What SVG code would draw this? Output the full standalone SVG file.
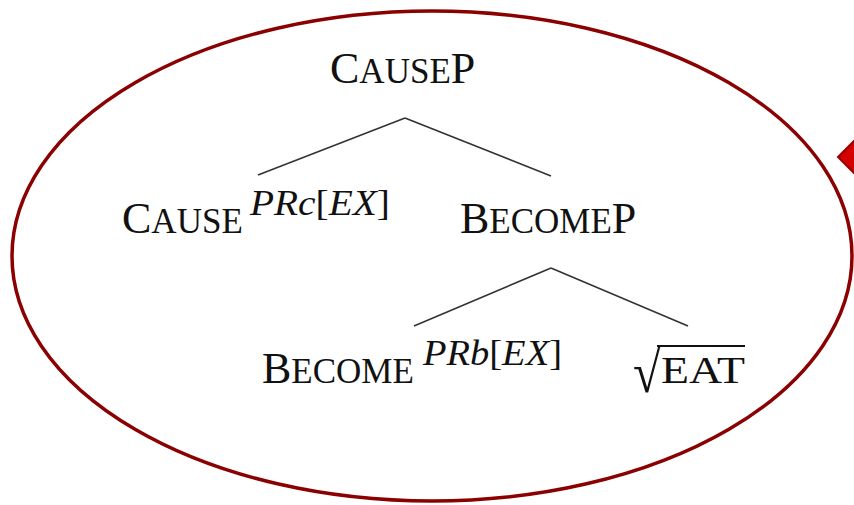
<svg xmlns="http://www.w3.org/2000/svg" width="854" height="505" viewBox="0 0 854 505">
<style>
.lbl{font-family:"Liberation Serif","Times New Roman",serif;fill:#111;}
.cap{font-size:44px;}
.sc{font-size:35px;}
.sup{font-family:"Liberation Serif","Times New Roman",serif;font-size:36px;fill:#111;font-style:italic;}
.up{font-style:normal;}
.edge{stroke:#333;stroke-width:1.6;fill:none;}
</style>
<rect width="854" height="505" fill="#fff"/>
<ellipse cx="432" cy="256" rx="420" ry="245" fill="none" stroke="#8b0000" stroke-width="3.5"/>
<polygon points="838,157 858,137 878,157 858,177" fill="#d40000" stroke="#990000" stroke-width="2"/>
<g id="connectors">
<line class="edge" x1="405" y1="118" x2="258" y2="175"/>
<line class="edge" x1="405" y1="118" x2="551" y2="176"/>
<line class="edge" x1="551" y1="268" x2="414" y2="326"/>
<line class="edge" x1="551" y1="268" x2="688" y2="326"/>
</g>
<g id="causeP">
<text class="lbl" x="330" y="83"><tspan class="cap">C</tspan><tspan class="sc">AUSE</tspan><tspan class="cap">P</tspan></text>
</g>
<g id="cause">
<text class="lbl" x="122" y="233"><tspan class="cap">C</tspan><tspan class="sc">AUSE</tspan></text>
<text class="sup" x="250" y="215" textLength="140" lengthAdjust="spacingAndGlyphs">PRc<tspan class="up">[</tspan>EX<tspan class="up">]</tspan></text>
</g>
<g id="becomeP">
<text class="lbl" x="460" y="233"><tspan class="cap">B</tspan><tspan class="sc">ECOME</tspan><tspan class="cap">P</tspan></text>
</g>
<g id="become">
<text class="lbl" x="262" y="383"><tspan class="cap">B</tspan><tspan class="sc">ECOME</tspan></text>
<text class="sup" x="423" y="365" textLength="139" lengthAdjust="spacingAndGlyphs">PRb<tspan class="up">[</tspan>EX<tspan class="up">]</tspan></text>
</g>
<g id="eat">
<text class="lbl" transform="translate(633,392) scale(1,1.15)" x="0" y="0" style="font-size:50px">√</text>
<line x1="657" y1="346" x2="745" y2="346" stroke="#111" stroke-width="2"/>
<text class="lbl" x="661" y="383" style="font-size:38px" textLength="84" lengthAdjust="spacingAndGlyphs">EAT</text>
</g>
</svg>
